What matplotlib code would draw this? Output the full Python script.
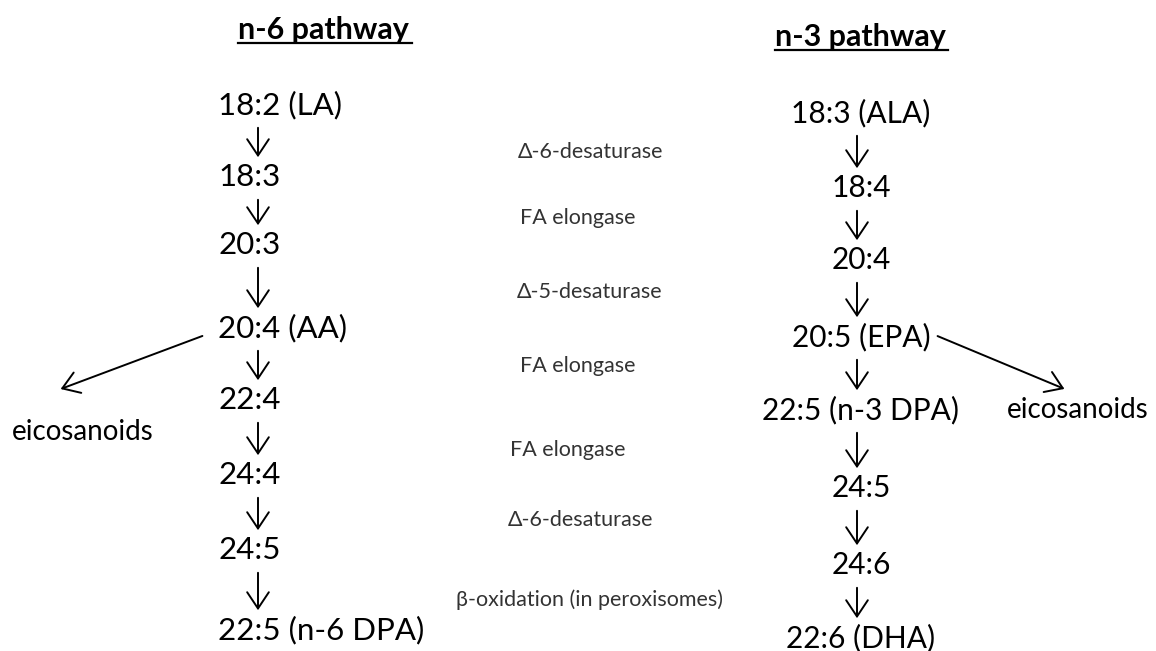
import matplotlib.pyplot as plt

# pathway contents
n6_steps = ['18:2 (LA)', '18:3', '20:3', '20:4 (AA)', '22:4', '24:4', '24:5', '22:5 (n-6 DPA)']
n3_steps = ['18:3 (ALA)', '18:4', '20:4', '20:5 (EPA)', '22:5 (n-3 DPA)', '24:5', '24:6', '22:6 (DHA)']
enzymes = ['Δ-6-desaturase', 'FA elongase', 'Δ-5-desaturase', 'FA elongase',
           'FA elongase', 'Δ-6-desaturase', 'β-oxidation (in peroxisomes)']
side_product = 'eicosanoids'

# layout (pixel coordinates of the 1156x651 canvas)
n6_y = [105, 177, 245, 328, 400, 475, 550, 630]
n3_y = [113, 188, 260, 337, 410, 488, 565, 638]
enz_x = [518, 520, 517, 520, 510, 508, 456]
enz_y = [152, 218, 292, 366, 450, 520, 600]
n6_x, n3_x = 218, 861
n6_arrow_x, n3_arrow_x = 258, 857

plt.rcParams['font.family'] = ['Lato', 'DejaVu Sans']

fig = plt.figure(figsize=(11.56, 6.51), dpi=100)
ax = fig.add_axes([0, 0, 1, 1])
ax.set_xlim(0, 1156)
ax.set_ylim(651, 0)
ax.axis('off')

arrow = dict(arrowstyle='->, head_length=0.45, head_width=0.3', color='black', lw=1.4,
             mutation_scale=26)

# titles
ax.text(238, 30, 'n-6 pathway', fontsize=22, fontweight='bold', va='center', ha='left')
ax.plot([238, 412], [43, 43], color='black', lw=1.6)
ax.text(775, 37, 'n-3 pathway', fontsize=22, fontweight='bold', va='center', ha='left')
ax.plot([775, 948], [50, 50], color='black', lw=1.6)

for lab, y in zip(n6_steps, n6_y):
    ax.text(n6_x, y, lab, fontsize=22.5, va='center', ha='left')
for a, b in zip(n6_y[:-1], n6_y[1:]):
    ax.annotate('', xy=(n6_arrow_x, b - 17), xytext=(n6_arrow_x, a + 20), arrowprops=arrow)

for lab, y in zip(n3_steps, n3_y):
    ax.text(n3_x, y, lab, fontsize=21.5, va='center', ha='center')
for a, b in zip(n3_y[:-1], n3_y[1:]):
    ax.annotate('', xy=(n3_arrow_x, b - 17), xytext=(n3_arrow_x, a + 20), arrowprops=arrow)

for lab, x, y in zip(enzymes, enz_x, enz_y):
    ax.text(x, y, lab, fontsize=15.5, va='center', ha='left', color='#333333')

# side branches
ax.annotate('', xy=(58, 390), xytext=(205, 335), arrowprops=arrow)
ax.text(12, 432, side_product, fontsize=20, va='center', ha='left')
ax.annotate('', xy=(1067, 390), xytext=(935, 335), arrowprops=arrow)
ax.text(1007, 410, side_product, fontsize=20, va='center', ha='left')

fig.savefig('out.png', dpi=100, facecolor='white')
